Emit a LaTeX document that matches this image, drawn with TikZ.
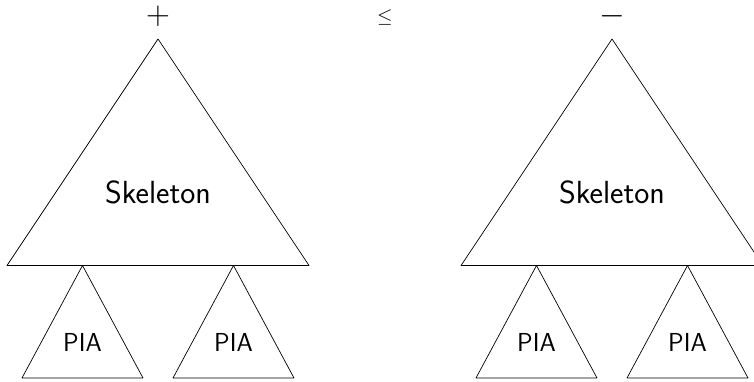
\RequirePackage{fix-cm}
\documentclass[tikz,border=0pt]{standalone}
\usepackage{tikz}
\begin{document}
\begin{tikzpicture}[x=1pt,y=1pt,line width=0.7pt,line join=round,
  skeltext/.style={font=\sffamily\fontsize{32}{36}\selectfont},
  piatext/.style={font=\sffamily\fontsize{26}{30}\selectfont},
  signtext/.style={font=\fontsize{33}{36}\selectfont,inner sep=0pt}]
\useasboundingbox (0,0) rectangle (754,382);
\foreach \x/\s/\n in {158/+/left,612/-/right}{
  \coordinate (\n top) at (\x,343);
  \draw (\n top) -- ++(151,-226.5) -- ++(-302,0) -- cycle;
  \node[skeltext] (\n skel) at (\x,190) {Skeleton};
  \node[signtext] (\n sign) at (\x,366) {$\s$};
  \foreach \d/\m in {-75.5/a,75.5/b}{
    \coordinate (\n\m) at (\x+\d,116.5);
    \draw (\n\m) -- ++(60.5,-112.5) -- ++(-121,0) -- cycle;
    \node[piatext] (\n pia\m) at (\x+\d,40) {PIA};
  }
}
\node[inner sep=0pt] (leq) at (385,364) {\scalebox{2}{$\leq$}};
\end{tikzpicture}
\end{document}
